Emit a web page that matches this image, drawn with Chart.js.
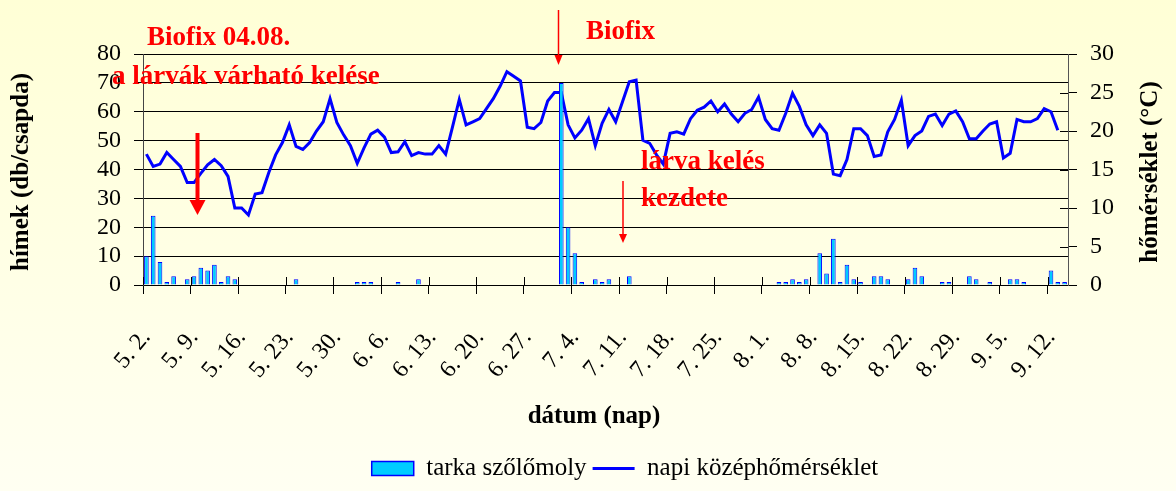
<!DOCTYPE html>
<html>
<head>
<meta charset="utf-8">
<script src="https://cdn.jsdelivr.net/npm/chart.js@4.4.0/dist/chart.umd.min.js"></script>
<style>
    html, body { margin: 0; padding: 0; background: #fffff0; }
</style>
</head>
<body>
<canvas id="chart" width="1176" height="491"></canvas>
<script>
// one category per day, 5. 2. - 9. 14.
const monthLen = { 5: 31, 6: 30, 7: 31, 8: 31, 9: 30 };
const days = [];
let m = 5, d = 2;
for (let i = 0; i < 136; i++) {
    days.push(m + ". " + d + ".");
    d++;
    if (d > monthLen[m]) { d = 1; m++; }
}

// tarka szőlőmoly (db/csapda), one row per week
const moth = [
    10, 24, 8, 1, 3, null, 2,
    3, 6, 5, 7, 1, 3, 2,
    null, null, null, null, null, null, null,
    null, 2, null, null, null, null, null,
    null, null, null, 1, 1, 1, null,
    null, null, 1, null, null, 2, null,
    null, null, null, null, null, null, null,
    null, null, null, null, null, null, null,
    null, null, null, null, null, 70, 20,
    11, 1, null, 2, 1, 2, null,
    null, 3, null, null, null, null, null,
    null, null, null, null, null, null, null,
    null, null, null, null, null, null, null,
    null, null, 1, 1, 2, 1, 2,
    null, 11, 4, 16, 1, 7, 2,
    1, null, 3, 3, 2, null, null,
    2, 6, 3, null, null, 1, 1,
    null, null, 3, 2, null, 1, null,
    null, 2, 2, 1, null, null, null,
    5, 1, 1,
];

// napi középhőmérséklet (°C), one row per week
const temp = [
    17.0, 15.4, 15.7, 17.2, 16.3, 15.4, 13.3,
    13.3, 14.5, 15.6, 16.3, 15.5, 14.1, 10.0,
    10.0, 9.1, 11.8, 12.0, 14.6, 16.9, 18.5,
    20.8, 18.0, 17.6, 18.5, 20.0, 21.2, 24.2,
    21.1, 19.5, 18.1, 15.8, 17.8, 19.6, 20.1,
    19.2, 17.2, 17.3, 18.6, 16.8, 17.2, 17.0,
    17.0, 18.1, 17.0, 20.5, 24.1, 20.8, 21.2,
    21.6, 22.9, 24.2, 25.8, 27.7, 27.1, 26.5,
    20.5, 20.3, 21.1, 23.9, 25.0, 25.0, 20.8,
    19.1, 20.1, 21.6, 18.1, 21.0, 22.8, 21.2,
    23.8, 26.4, 26.6, 18.8, 18.4, 16.9, 15.7,
    19.7, 19.9, 19.6, 21.6, 22.7, 23.1, 23.9,
    22.5, 23.5, 22.2, 21.2, 22.3, 22.8, 24.4,
    21.5, 20.3, 20.1, 22.3, 24.9, 23.2, 20.8,
    19.4, 20.8, 19.7, 14.4, 14.2, 16.3, 20.3,
    20.3, 19.4, 16.7, 16.9, 19.9, 21.5, 24.0,
    18.1, 19.4, 20.0, 21.9, 22.2, 20.7, 22.2,
    22.6, 21.2, 19.0, 19.0, 20.0, 20.9, 21.2,
    16.5, 17.1, 21.5, 21.2, 21.2, 21.6, 22.9,
    22.5, 20.1, null,
];

const labelEvery = 7;
const serif = '"Liberation Serif", "Times New Roman", serif';
Chart.defaults.font.family = serif;
Chart.defaults.color = "#000";

// background, titles, red notes, inward tick marks
const extras = {
    id: "extras",
    beforeDraw(chart) {
        const ctx = chart.ctx;
        const g = ctx.createLinearGradient(0, 0, 0, chart.height);
        g.addColorStop(0, "#ffffd6");
        g.addColorStop(1, "#fffff2");
        ctx.save();
        ctx.fillStyle = g;
        ctx.fillRect(0, 0, chart.width, chart.height);
        ctx.restore();
    },
    afterDraw(chart) {
        const ctx = chart.ctx;
        const xs = chart.scales.x;
        const y1 = chart.scales.y1;
        ctx.save();

        // tick marks reaching into the plot
        ctx.strokeStyle = "#000";
        ctx.lineWidth = 1;
        const half = (xs.getPixelForValue(1) - xs.getPixelForValue(0)) / 2;
        for (let i = 0; i < days.length; i += labelEvery) {
            const px = Math.round(xs.getPixelForValue(i) - half) + 0.5;
            ctx.beginPath();
            ctx.moveTo(px, xs.top - 8);
            ctx.lineTo(px, xs.top);
            ctx.stroke();
        }
        for (let v = 0; v <= 30; v += 5) {
            const py = Math.round(y1.getPixelForValue(v)) + 0.5;
            ctx.beginPath();
            ctx.moveTo(y1.left - 8, py);
            ctx.lineTo(y1.left, py);
            ctx.stroke();
        }

        // axis titles
        ctx.fillStyle = "#000";
        ctx.font = "bold 25px " + serif;
        ctx.textAlign = "center";
        ctx.textBaseline = "middle";
        ctx.save();
        ctx.translate(22, 172);
        ctx.rotate(-Math.PI / 2);
        ctx.fillText("hímek (db/csapda)", 0, 0);
        ctx.restore();
        ctx.save();
        ctx.translate(1151, 172);
        ctx.rotate(-Math.PI / 2);
        ctx.fillText("hőmérséklet (°C)", 0, 0);
        ctx.restore();
        ctx.fillText("dátum (nap)", 594, 417);

        // red notes
        ctx.fillStyle = "#ff0000";
        ctx.strokeStyle = "#ff0000";
        ctx.font = "bold 27px " + serif;
        ctx.textAlign = "left";
        ctx.textBaseline = "alphabetic";
        ctx.fillText("Biofix 04.08.", 147, 45);
        ctx.fillText("a lárvák várható kelése", 112, 84);
        ctx.fillText("Biofix", 586, 39);
        ctx.fillText("lárva kelés", 641, 169);
        ctx.fillText("kezdete", 641, 206);

        const arrow = (x, y0, y1p, w, headW, headL) => {
            ctx.lineWidth = w;
            ctx.beginPath();
            ctx.moveTo(x, y0);
            ctx.lineTo(x, y1p - headL + 1);
            ctx.stroke();
            ctx.beginPath();
            ctx.moveTo(x - headW / 2, y1p - headL);
            ctx.lineTo(x + headW / 2, y1p - headL);
            ctx.lineTo(x, y1p);
            ctx.closePath();
            ctx.fill();
        };
        arrow(197.5, 133, 215, 4, 16, 15);
        arrow(558.5, 10, 65, 1.5, 8, 10);
        arrow(623, 181, 243, 1.5, 8, 9);

        ctx.restore();
    },
};

new Chart(document.getElementById("chart"), {
    data: {
        labels: days,
        datasets: [
            {
                type: "bar",
                label: "tarka szőlőmoly",
                data: moth,
                yAxisID: "y",
                backgroundColor: "#00ccff",
                borderColor: "#0000ff",
                borderWidth: 1,
                barPercentage: 0.68,
                categoryPercentage: 1,
                order: 1,
            },
            {
                type: "line",
                label: "napi középhőmérséklet",
                data: temp,
                yAxisID: "y1",
                borderColor: "#0000ff",
                backgroundColor: "#0000ff",
                borderWidth: 3,
                pointRadius: 0,
                tension: 0,
                order: 2,
            },
        ],
    },
    options: {
        responsive: false,
        animation: false,
        // left padding shifts the centred legend to the right like the original
        layout: { padding: { top: 54, left: 74, right: 0, bottom: 0 } },
        scales: {
            x: {
                offset: true,
                grid: {
                    offset: true,
                    drawOnChartArea: false,
                    tickLength: 9,
                    tickColor: (c) => (c.index % labelEvery === 0 ? "#000" : "rgba(0,0,0,0)"),
                },
                border: { color: "#000" },
                ticks: {
                    autoSkip: false,
                    minRotation: 50,
                    maxRotation: 50,
                    padding: 30,
                    font: { size: 24 },
                    callback: function (value, index) {
                        return index % labelEvery === 0 ? this.getLabelForValue(value) : "";
                    },
                },
                afterFit: (s) => { s.height = 165; },
            },
            y: {
                position: "left",
                min: 0,
                max: 80,
                ticks: { stepSize: 10, autoSkip: false, padding: 13, font: { size: 24 } },
                grid: { color: "#000", tickLength: 9 },
                border: { color: "#444" },
                afterFit: (s) => { s.width = 69; },
            },
            y1: {
                position: "right",
                min: 0,
                max: 30,
                ticks: { stepSize: 5, autoSkip: false, padding: 13, font: { size: 24 } },
                grid: { drawOnChartArea: false, tickLength: 9, color: "#000" },
                border: { color: "#555" },
                afterFit: (s) => { s.width = 108; },
            },
        },
        plugins: {
            tooltip: { enabled: false },
            legend: {
                position: "bottom",
                labels: {
                    font: { size: 25 },
                    usePointStyle: true,
                    pointStyleWidth: 42,
                    boxHeight: 14,
                    padding: 6,
                    generateLabels: (chart) => {
                        const items = Chart.defaults.plugins.legend.labels.generateLabels(chart);
                        items[0].pointStyle = "rect";
                        items[0].fillStyle = "#00ccff";
                        items[0].strokeStyle = "#0000ff";
                        items[0].lineWidth = 1.5;
                        items[1].pointStyle = "line";
                        items[1].strokeStyle = "#0000ff";
                        items[1].lineWidth = 3;
                        return items;
                    },
                },
            },
        },
    },
    plugins: [extras],
});
</script>
</body>
</html>
